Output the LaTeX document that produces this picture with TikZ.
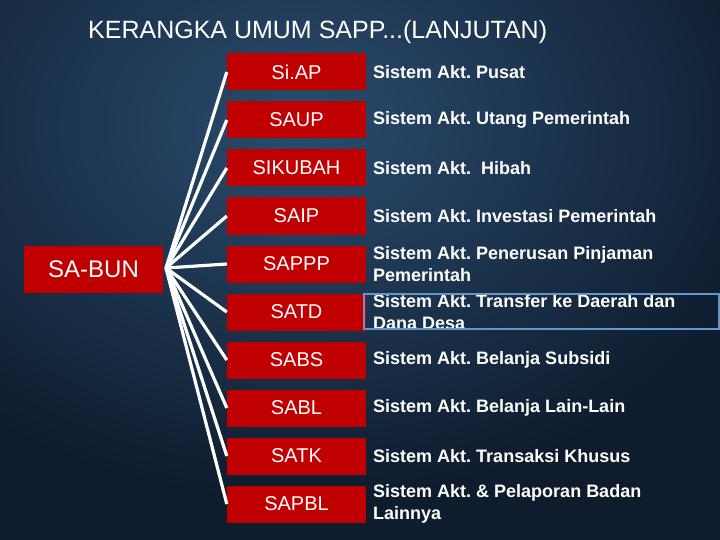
\documentclass[tikz,border=0pt]{standalone}
\usepackage{fontspec}
\setmainfont{Liberation Sans}
\frenchspacing
\begin{document}
\begin{tikzpicture}[x=1pt,y=-1pt,
  redbox/.style={fill={rgb,255:red,192;green,0;blue,0}, minimum width=139pt, minimum height=37pt, inner sep=0pt, text=white, font=\fontsize{20}{24}\selectfont},
  desc/.style={anchor=west, text=white, font=\bfseries\fontsize{18}{21.5}\selectfont, align=left, inner sep=0pt},
  link/.style={white, line width=3.2pt}]
\definecolor{bgdark}{RGB}{14,28,46}
\definecolor{bglight}{RGB}{42,76,110}
\definecolor{outl}{RGB}{100,150,200}
\useasboundingbox (0,0) rectangle (720,540);
\fill[bgdark] (0,0) rectangle (720,540);
\shade[inner color=bglight, outer color=bgdark] (-200,-250) rectangle (800,500);
\node[anchor=west, text=white, font=\fontsize{25}{28}\selectfont, inner sep=0pt] (title) at (88,32) {KERANGKA UMUM SAPP...(LANJUTAN)};
\node[redbox, minimum width=139pt, minimum height=47pt, font=\fontsize{24}{28}\selectfont] (bun) at (93.5,269.5) {SA-BUN};
\coordinate (hub) at (166,268);
\foreach \n/\lab/\d [count=\i from 0] in {a/Si.AP/{Sistem Akt. Pusat},
  b/SAUP/{Sistem Akt. Utang Pemerintah},
  c/SIKUBAH/{Sistem Akt.\ \ Hibah},
  d/SAIP/{Sistem Akt. Investasi Pemerintah},
  e/SAPPP/{Sistem Akt. Penerusan Pinjaman\\Pemerintah},
  f/SATD/{Sistem Akt. Transfer ke Daerah dan\\Dana Desa},
  g/SABS/{Sistem Akt. Belanja Subsidi},
  h/SABL/{Sistem Akt. Belanja Lain-Lain},
  i/SATK/{Sistem Akt. Transaksi Khusus},
  j/SAPBL/{Sistem Akt. \& Pelaporan Badan\\Lainnya}}{
  \node[redbox] (\n) at (296.5,72+48*\i) {\lab};
  \node[desc] (\n d) at (373,72+48*\i) {\d};
  \draw[link] (hub) -- (\n.west);
}
\draw[outl, line width=1.5pt] (364,294) rectangle (719,329);
\end{tikzpicture}
\end{document}
